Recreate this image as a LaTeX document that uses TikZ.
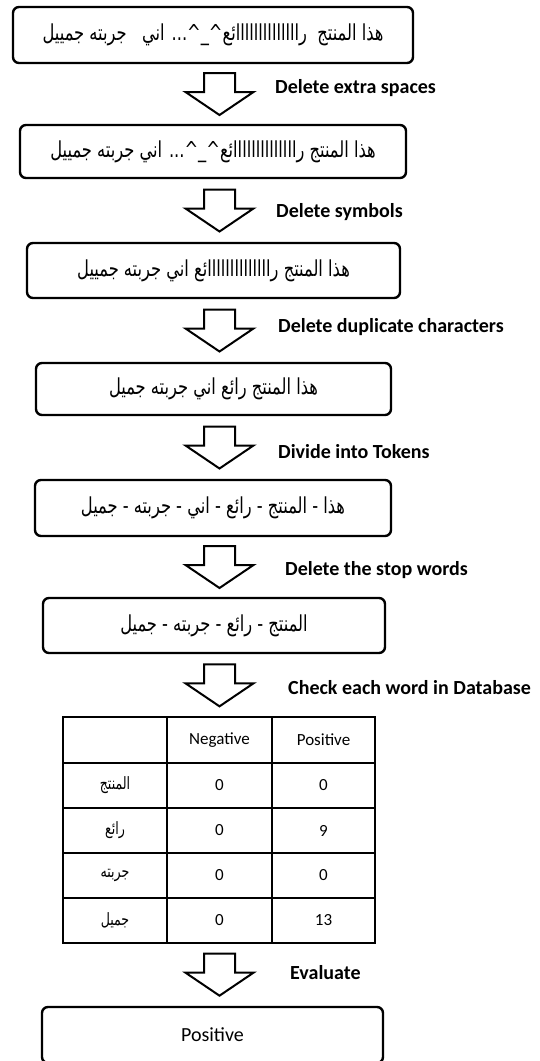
\documentclass[tikz,border=0pt]{standalone}
\usepackage{fontspec}
\setmainfont{Carlito}
\newfontfamily\arabicfont[Script=Arabic,FakeStretch=0.74]{DejaVu Sans}
\TeXXeTstate=1
\usetikzlibrary{calc}
\newcommand{\artxt}[1]{{\arabicfont\beginR #1\endR}}

\begin{document}
\begin{tikzpicture}[x=1pt,y=-1pt,
  stepbox/.style={draw,line width=2.4pt,rounded corners=6pt,inner sep=0pt,
    font=\fontsize{22}{26}\selectfont},
  blockarrow/.style={draw,line width=2pt,line join=miter},
  steplabel/.style={anchor=west,inner sep=0pt,font=\bfseries\fontsize{20}{24}\selectfont},
  cell/.style={inner sep=0pt,font=\fontsize{17}{20}\selectfont}]
  \useasboundingbox (0,0) rectangle (540,1061);
  \node[stepbox,minimum width=400,minimum height=56] (s1) at (213,35)
    {\artxt{هذا المنتج\ \ راااااااااااااائع\textasciicircum\_\textasciicircum... اني\ \ \ جربته جمييل}};
  \node[stepbox,minimum width=386,minimum height=53] (s2) at (213,151.5)
    {\artxt{هذا المنتج راااااااااااااائع\textasciicircum\_\textasciicircum... اني جربته جمييل}};
  \node[stepbox,minimum width=373,minimum height=55] (s3) at (213.5,270.5)
    {\artxt{هذا المنتج راااااااااااااائع اني جربته جمييل}};
  \node[stepbox,minimum width=355,minimum height=52] (s4) at (213.5,389)
    {\artxt{هذا المنتج رائع اني جربته جميل}};
  \node[stepbox,minimum width=356,minimum height=56] (s5) at (213,508)
    {\artxt{هذا - المنتج - رائع - اني - جربته - جميل}};
  \node[stepbox,minimum width=342,minimum height=55] (s6) at (214,625.5)
    {\artxt{المنتج - رائع - جربته - جميل}};
  \node[draw,line width=1.1pt,minimum width=312,minimum height=226,inner sep=0pt] (db) at (219,830) {};
  \node[stepbox,minimum width=341,minimum height=56,font=\fontsize{20}{24}\selectfont] (res) at (212.5,1035) {Positive};

  \foreach \y in {763,808,853,898}
    \draw[line width=1.1pt] (db.west |- 0,\y) -- (db.east |- 0,\y);
  \foreach \x in {167,272}
    \draw[line width=1.1pt] (db.north -| \x,0) -- (db.south -| \x,0);
  \node[cell] (hn) at (219.5,740) {Negative};
  \node[cell] (hp) at (323.5,740) {Positive};
  \foreach \w/\n/\p/\y [count=\i] in {المنتج/0/0/785.5,رائع/0/9/830.5,جربته/0/0/875.5,جميل/0/13/920.5}{
    \node[cell,font=\fontsize{17}{20}\selectfont] (w\i) at (115,\y) {\artxt{\w}};
    \node[cell] (n\i) at (219.5,\y) {\n};
    \node[cell] (p\i) at (323.5,\y) {\p};
  }

  \foreach \a/\b [count=\i] in {s1/s2,s2/s3,s3/s4,s4/s5,s5/s6,s6/db,db/res}{
    \coordinate (m\i) at ($(\a.south)!.5!(\b.north)$);
    \path (219.5,0 |- m\i) coordinate (c\i);
    \draw[blockarrow,shift={(c\i)}] (-15.5,-21) -- (15.5,-21) -- (15.5,-2) -- (34,-2)
      -- (0,21) -- (-34,-2) -- (-15.5,-2) -- cycle;
  }
  \foreach \i/\x/\y/\t in {1/275/88/Delete extra spaces,2/276/212/Delete symbols,
      3/278/327/Delete duplicate characters,4/278/452/Divide into Tokens,
      5/285/570/Delete the stop words,6/288/688/Check each word in Database,
      7/290/973/Evaluate}
    \node[steplabel] (l\i) at (\x,\y) {\t};
\end{tikzpicture}
\end{document}
